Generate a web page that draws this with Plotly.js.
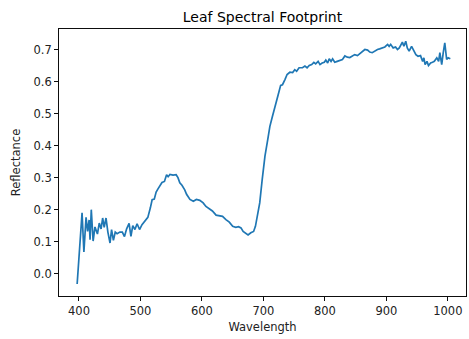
<!DOCTYPE html>
<html>
<head>
<meta charset="utf-8">
<script src="https://cdn.plot.ly/plotly-3.0.1.min.js"></script>
<style>html,body{margin:0;padding:0;background:#fff;}#chart{width:469px;height:339px;}</style>
</head>
<body>
<div id="chart"></div>
<script>
const wavelength = [397,405,408,411.5,414,416.5,418,420,423,426,430,433,436,438.5,441,444,447,450.5,453,456,459,462,466.5,470.5,474,477.5,481.5,484.5,487.5,491,494.5,498.5,502.5,507,512,516,519,522.5,525.5,528.5,532,535,539,542.5,545,548,553,558,561,564,567.5,572,575,580.5,586,591,596.5,602,606.5,612,617,623,628,633.5,639,644.5,650,655,659.5,663.5,667,671,675,679.5,684,687,690.5,694,698,702.5,707,710.5,714.5,718.5,724,728,731,735,738.5,743,747.5,751,754,758,763.5,767.5,771,774.5,778.5,782,785,789,792,795.5,799,801.5,804.5,807,810,812.5,816,820,824,828.5,832.5,836.5,840.5,844,848.5,853,857,861,865,869.5,873,877,881,885.5,889,893,897.5,902,904.5,907,911,915,918,921,923.5,926,928.5,931.5,934,937,941,944.5,948,951.5,955.5,959,961,963,966,968.5,972,975,978,982,985,987,990,992.5,995,998,1000.5,1004];
const reflectance = [-0.032,0.19,0.068,0.176,0.132,0.168,0.106,0.20,0.102,0.146,0.124,0.158,0.14,0.174,0.145,0.174,0.13,0.096,0.138,0.104,0.13,0.125,0.13,0.13,0.116,0.14,0.157,0.117,0.15,0.138,0.156,0.138,0.153,0.163,0.176,0.205,0.231,0.233,0.255,0.265,0.278,0.285,0.288,0.309,0.303,0.31,0.308,0.309,0.3,0.284,0.276,0.262,0.248,0.232,0.226,0.232,0.229,0.221,0.21,0.203,0.196,0.183,0.182,0.179,0.169,0.161,0.148,0.145,0.147,0.143,0.132,0.125,0.121,0.128,0.132,0.148,0.179,0.221,0.294,0.367,0.419,0.46,0.49,0.523,0.559,0.588,0.59,0.606,0.622,0.629,0.628,0.637,0.632,0.643,0.643,0.648,0.643,0.65,0.653,0.66,0.655,0.663,0.653,0.658,0.66,0.667,0.658,0.671,0.663,0.671,0.66,0.663,0.667,0.669,0.68,0.676,0.675,0.679,0.684,0.681,0.688,0.692,0.70,0.698,0.692,0.69,0.695,0.70,0.702,0.705,0.708,0.716,0.71,0.716,0.705,0.708,0.70,0.705,0.716,0.723,0.71,0.726,0.705,0.695,0.71,0.695,0.684,0.679,0.681,0.663,0.674,0.653,0.663,0.65,0.658,0.66,0.663,0.674,0.663,0.69,0.653,0.69,0.721,0.669,0.674,0.671];
const xTicks = [400,500,600,700,800,900,1000];
const yTicks = [0.0,0.1,0.2,0.3,0.4,0.5,0.6,0.7];
const titleText = "Leaf Spectral Footprint";
const xLabel = "Wavelength";
const yLabel = "Reflectance";

const font = {family: "DejaVu Sans", size: 11.5, color: "#222"};
const axisCommon = {
  showgrid: false, zeroline: false, showline: true, mirror: true,
  linecolor: "#000", linewidth: 0.95, ticks: "outside", ticklen: 4,
  tickwidth: 0.95, tickcolor: "#000", tickfont: font, automargin: false
};
Plotly.newPlot("chart", [{
  x: wavelength, y: reflectance, type: "scatter", mode: "lines",
  line: {color: "#1f77b4", width: 1.7}, hoverinfo: "skip"
}], {
  width: 469, height: 339,
  margin: {l: 59, r: 3, t: 29, b: 43, pad: 0},
  paper_bgcolor: "#fff", plot_bgcolor: "#fff",
  showlegend: false,
  title: {text: titleText, font: {family: "DejaVu Sans", size: 14, color: "#000"},
          x: 0.5, xref: "paper", xanchor: "center", y: 1 - 17/339, yref: "container", yanchor: "middle"},
  xaxis: Object.assign({}, axisCommon, {
    range: [367.5, 1029.5], tickvals: xTicks, ticktext: xTicks.map(String),
    title: {text: xLabel, font: font, standoff: 6}
  }),
  yaxis: Object.assign({}, axisCommon, {
    range: [-0.0695, 0.764], tickvals: yTicks, ticktext: yTicks.map(v => v.toFixed(1)),
    title: {text: yLabel, font: font, standoff: 10}
  })
}, {staticPlot: true, displayModeBar: false});
</script>
</body>
</html>
